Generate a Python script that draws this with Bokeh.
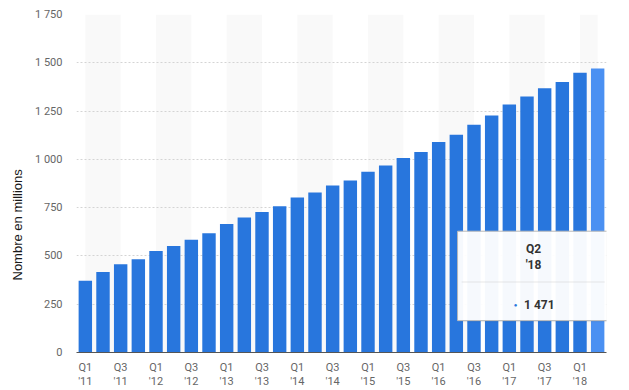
import math
from bokeh.plotting import figure
from bokeh.models import Range1d, FixedTicker, BoxAnnotation, Label, Title
from bokeh.embed import file_html
from bokeh.resources import INLINE

quarters = ["Q1", "Q2", "Q3", "Q4"]
years = ["'11", "'12", "'13", "'14", "'15", "'16", "'17", "'18"]
categories = [f"{q} {y}" for y in years for q in quarters][:30]
values = [372, 417, 457, 483, 526, 552, 584, 618, 665, 699, 728, 757,
          802, 829, 864, 890, 936, 968, 1007, 1038, 1090, 1128, 1179, 1227,
          1284, 1325, 1368, 1401, 1449, 1471]
y_ticks = [0, 250, 500, 750, 1000, 1250, 1500, 1750]
y_label = "Nombre en millions"


def fmt(v):
    return f"{v:,}".replace(",", " ")


BLUE = "#2876dd"
HILITE = "#4a90f2"
n = len(categories)
idx = list(range(n))
colors = [BLUE] * (n - 1) + [HILITE]

p = figure(x_range=Range1d(-0.5, n - 0.5), y_range=Range1d(0, 1750),
           width=629, height=390, output_backend="svg", toolbar_location=None,
           min_border_left=76, min_border_right=23, min_border_top=14, min_border_bottom=36)
p.outline_line_color = None
p.background_fill_color = "white"

# alternating bands between labelled ticks
for k in range(0, n, 4):
    p.add_layout(BoxAnnotation(left=k, right=min(k + 2, n - 1),
                               fill_color="#f9f9f9", fill_alpha=1.0, line_color=None,
                               level="image"))

p.vbar(x=idx, top=values, width=0.76, color=colors, line_color=None)

# axes
p.xaxis.ticker = FixedTicker(ticks=idx[::2])
p.xaxis.major_label_overrides = {i: categories[i].replace(" ", "\n") for i in idx[::2]}
p.xaxis.major_tick_line_color = None
p.xaxis.major_tick_out = 0
p.xaxis.major_tick_in = 0
p.xaxis.minor_tick_line_color = None
p.xaxis.axis_line_color = "#555555"
p.xaxis.axis_line_width = 1
p.xaxis.major_label_text_color = "#666666"
p.xaxis.major_label_text_font = "Roboto"
p.xaxis.major_label_text_font_size = "11px"
p.xaxis.major_label_standoff = 8
p.xaxis.major_label_text_line_height = 1.1

p.yaxis.ticker = FixedTicker(ticks=y_ticks)
p.yaxis.major_label_overrides = {t: fmt(t) for t in y_ticks}
p.yaxis.axis_line_color = None
p.yaxis.major_tick_line_color = None
p.yaxis.major_tick_out = 0
p.yaxis.major_tick_in = 0
p.yaxis.minor_tick_line_color = None
p.yaxis.major_label_text_color = "#666666"
p.yaxis.major_label_text_font = "Roboto"
p.yaxis.major_label_text_font_size = "11px"
p.yaxis.major_label_standoff = 14

p.xgrid.grid_line_color = None
p.ygrid.grid_line_color = "#d4d4d4"
p.ygrid.grid_line_dash = "2 2"
p.ygrid.grid_line_width = 1

# y-axis title (placed lower like the reference)
p.add_layout(Title(text=y_label, align="left", offset=72, standoff=15,
                   text_font="Liberation Sans", text_font_size="13px",
                   text_font_style="normal", text_color="#1a1a1a"), "left")

# tooltip
tip_l, tip_r, tip_b, tip_t = 21.07, 29.6, 165, 628
p.add_layout(BoxAnnotation(left=tip_l + 0.12, right=tip_r + 0.12, bottom=tip_b - 8, top=tip_t - 8,
                           fill_color="#000000", fill_alpha=0.06, line_color=None,
                           level="overlay"))
p.add_layout(BoxAnnotation(left=tip_l, right=tip_r, bottom=tip_b, top=tip_t,
                           fill_color="white", fill_alpha=0.96, line_color="#b8b8b8",
                           line_width=1, line_alpha=1.0, level="overlay"))
last_q, last_y = categories[-1].split(" ")
p.add_layout(Label(x=25.37, y=494, text=f"{last_q}\n{last_y}", text_align="center",
                   text_baseline="middle", text_font="Roboto", text_font_size="12px",
                   text_font_style="bold", text_color="#333333", text_line_height=1.1,
                   level="overlay"))
p.add_layout(BoxAnnotation(left=21.3, right=29.4, bottom=364, top=366,
                           fill_color="#d0d0d0", fill_alpha=1.0, line_color=None,
                           level="overlay"))
p.add_layout(Label(x=24.35, y=247, text="●", text_align="center", text_baseline="middle",
                   text_font_size="6px", text_color=BLUE, level="overlay"))
p.add_layout(Label(x=25.7, y=247, text=fmt(values[-1]), text_align="center",
                   text_baseline="middle", text_font="Roboto", text_font_size="12px",
                   text_font_style="bold", text_color="#333333", level="overlay"))

open("out.html", "w").write(file_html(p, INLINE))
